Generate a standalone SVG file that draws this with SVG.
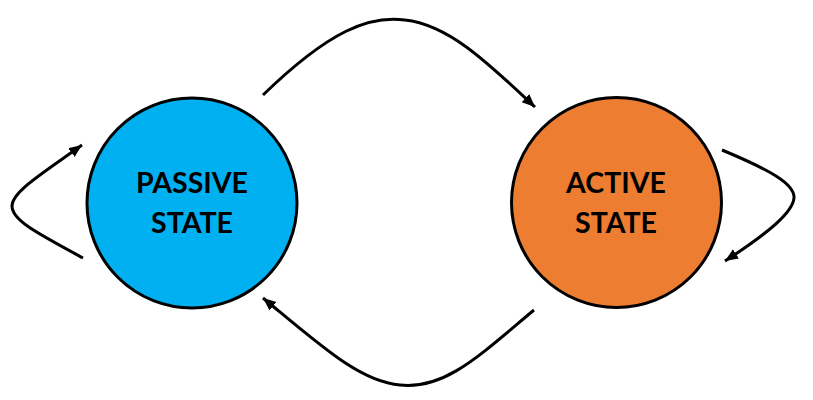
<svg xmlns="http://www.w3.org/2000/svg" width="813" height="400" viewBox="0 0 813 400">
<style>
.state{stroke:#000;stroke-width:3}
.lbl{font-family:"Lato","Liberation Sans",sans-serif;font-weight:bold;font-size:28.5px;fill:#000;text-anchor:middle}
.conn{fill:none;stroke:#000;stroke-width:3;marker-end:url(#arr)}
</style>
<defs>
<marker id="arr" markerUnits="userSpaceOnUse" markerWidth="15" markerHeight="12" refX="13" refY="5.5" orient="auto">
<path d="M0,0 L13,5.5 L0,11 Z" fill="#000"/>
</marker>
</defs>
<rect width="813" height="400" fill="#fff"/>
<g id="passive">
<circle class="state" cx="192" cy="203" r="105" fill="#00B0F0"/>
<text class="lbl" x="192" y="193">PASSIVE</text>
<text class="lbl" x="192" y="233">STATE</text>
</g>
<g id="active">
<circle class="state" cx="616.5" cy="202.5" r="105" fill="#ED7D31"/>
<text class="lbl" x="616" y="193">ACTIVE</text>
<text class="lbl" x="616" y="233">STATE</text>
</g>
<g id="connectors">
<path class="conn" d="M263,95 C330,30 370,15 405,20 C450,25 490,65 535,107"/>
<path class="conn" d="M534,310 C480,355 445,390 400,385 C360,382 320,345 263,298"/>
<path class="conn" d="M83,258 C35,232 12,220 12,206 C12,192 40,175 82,145"/>
<path class="conn" d="M722,150 C770,170 795,184 794,198 C793,212 770,232 725,261"/>
</g>
</svg>
